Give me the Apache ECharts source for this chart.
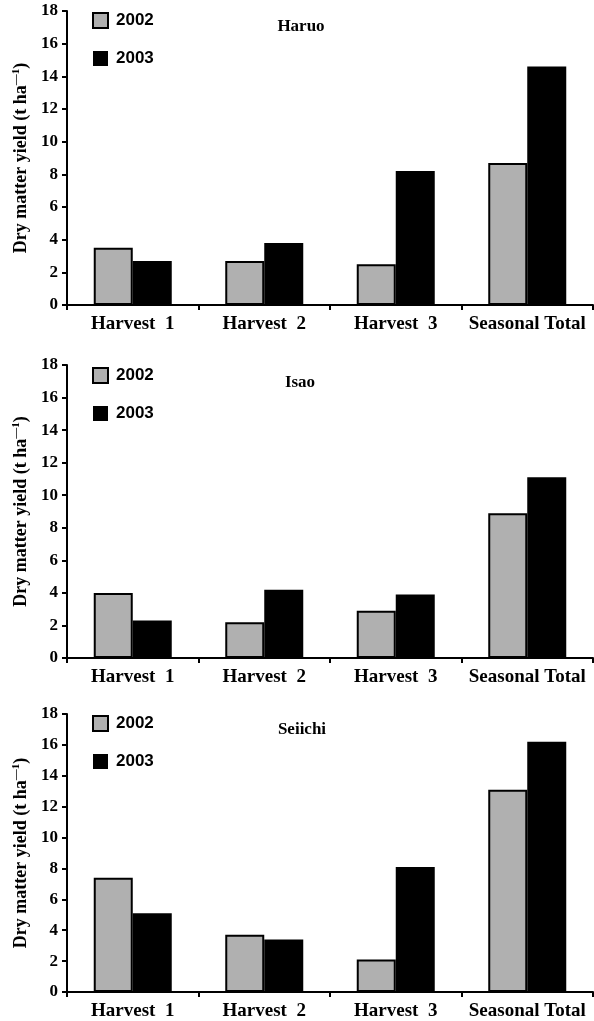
<!DOCTYPE html>
<html>
<head>
<meta charset="utf-8">
<script src="https://cdn.jsdelivr.net/npm/echarts@6/dist/echarts.min.js"></script>
<style>
html,body{margin:0;padding:0;background:#fff;}
#c{width:594px;height:1021px;}
</style>
</head>
<body>
<div id="c"></div>
<script>
const categories = ['Harvest  1', 'Harvest  2', 'Harvest  3', 'Seasonal Total'];
const years = ['2002', '2003'];
const panelNames = ['Haruo', 'Isao', 'Seiichi'];
const haruo2002 = [3.5, 2.7, 2.5, 8.7];
const haruo2003 = [2.7, 3.8, 8.2, 14.6];
const isao2002 = [4.0, 2.2, 2.9, 8.9];
const isao2003 = [2.3, 4.2, 3.9, 11.1];
const seiichi2002 = [7.4, 3.7, 2.1, 13.1];
const seiichi2003 = [5.1, 3.4, 8.1, 16.2];
const yTicks = [0, 18, 2]; // min, max, interval

const panelData = [[haruo2002, haruo2003], [isao2002, isao2003], [seiichi2002, seiichi2003]];

const SERIF = '"Liberation Serif", "Times New Roman", serif';
const SANS = '"Liberation Sans", Arial, sans-serif';
const grids = [
  {left: 67, right: 1, top: 11, height: 294},
  {left: 67, right: 1, top: 365, height: 293},
  {left: 67, right: 1, top: 714, height: 278}
];
const legendTops = [12, 367, 715];
const titlePos = [[301, 27], [300, 383], [302, 730]];

const colors = ['#b0b0b0', '#000000'];

const option = {
  animation: false,
  backgroundColor: '#fff',
  grid: grids,
  xAxis: grids.map((g, i) => ({
    type: 'category',
    gridIndex: i,
    data: categories,
    axisLine: {lineStyle: {color: '#000', width: 2}},
    axisTick: {show: true, length: 5, lineStyle: {color: '#000', width: 2}},
    axisLabel: {color: '#000', fontFamily: SERIF, fontWeight: 'bold', fontSize: 19, margin: 10, interval: 0}
  })),
  yAxis: grids.map((g, i) => ({
    type: 'value',
    gridIndex: i,
    min: yTicks[0], max: yTicks[1], interval: yTicks[2],
    splitLine: {show: false},
    axisLine: {show: true, lineStyle: {color: '#000', width: 2}},
    axisTick: {show: true, length: 5, lineStyle: {color: '#000', width: 2}},
    axisLabel: {color: '#000', fontFamily: SERIF, fontWeight: 'bold', fontSize: 17, margin: 9},
    name: '{n|Dry matter yield (t ha}{s|—1}{n|)}',
    nameLocation: 'middle',
    nameGap: 33,
    nameTextStyle: {
      rich: {
        n: {fontFamily: SERIF, fontWeight: 'bold', fontSize: 18, color: '#000', lineHeight: 20},
        s: {fontFamily: SERIF, fontWeight: 'bold', fontSize: 11, color: '#000', lineHeight: 20, verticalAlign: 'top'}
      }
    }
  })),
  legend: legendTops.map((t, i) => ({
    top: t,
    left: 92,
    orient: 'vertical',
    padding: 0,
    itemWidth: 15,
    itemHeight: 15,
    itemGap: 21,
    icon: 'rect',
    selectedMode: false,
    data: [
      {name: years[0], itemStyle: {color: colors[0], borderColor: '#000', borderWidth: 2}},
      {name: years[1], itemStyle: {color: colors[1], borderWidth: 0}}
    ],
    textStyle: {fontFamily: SANS, fontWeight: 'bold', fontSize: 17, color: '#000', lineHeight: 15, padding: [0, 0, 0, 3]}
  })),
  graphic: panelNames.map((n, i) => ({
    type: 'text',
    x: titlePos[i][0],
    y: titlePos[i][1],
    style: {text: n, font: 'bold 17px ' + SERIF, fill: '#000', textAlign: 'center', textVerticalAlign: 'middle'}
  })),
  series: []
};

panelData.forEach((pair, i) => {
  pair.forEach((vals, k) => {
    option.series.push({
      type: 'bar',
      name: years[k],
      xAxisIndex: i,
      yAxisIndex: i,
      data: vals,
      barWidth: 39,
      barGap: '0%',
      itemStyle: k === 0
        ? {color: colors[0], borderColor: '#000', borderWidth: 2}
        : {color: colors[1]}
    });
  });
});

const chart = echarts.init(document.getElementById('c'), null, {renderer: 'canvas'});
chart.setOption(option);
</script>
</body>
</html>
